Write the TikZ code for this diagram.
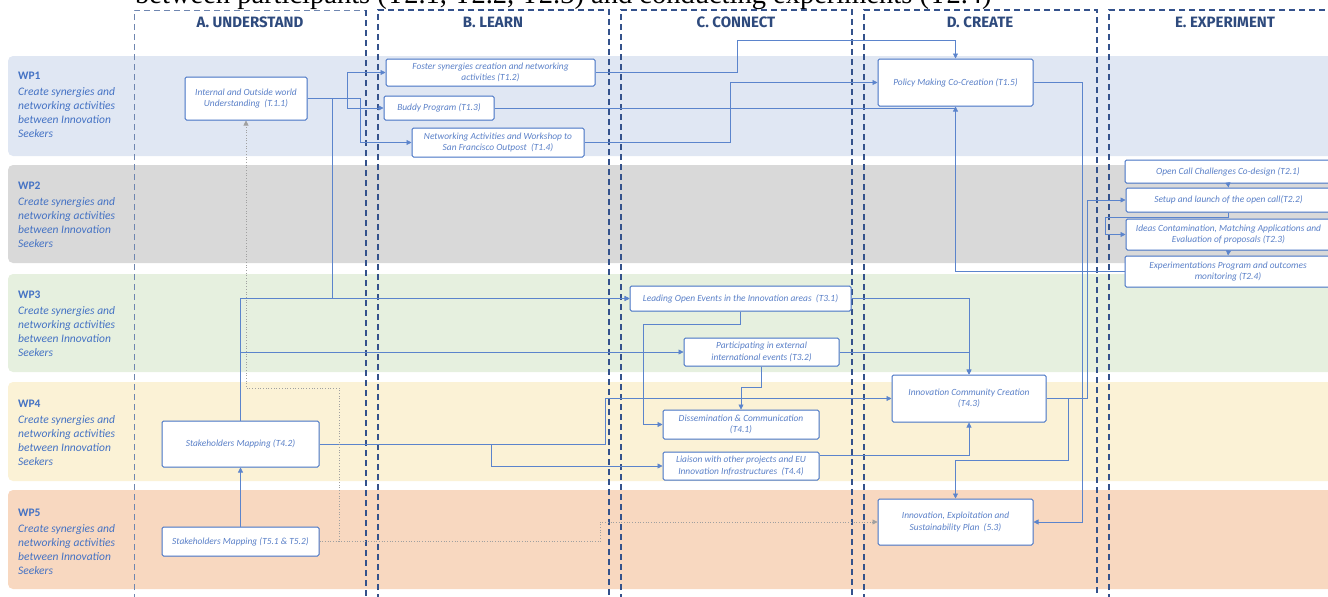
\documentclass[tikz,border=0pt]{standalone}
\usepackage{fontspec}
\setmainfont{Carlito}
\newfontfamily\hdfont{Fira Sans}
\newfontfamily\serifft{Liberation Serif}
\usetikzlibrary{arrows.meta}
\definecolor{boxblue}{HTML}{4472C4}
\definecolor{txtblue}{HTML}{5A80C8}
\definecolor{lnblue}{HTML}{5B84CC}
\definecolor{coldash}{HTML}{34528C}
\definecolor{colA}{HTML}{6F86B0}
\definecolor{hdcol}{HTML}{2E4A7D}
\definecolor{wpA}{HTML}{E0E7F3}
\definecolor{wpB}{HTML}{D9D9D9}
\definecolor{wpC}{HTML}{E6F0DF}
\definecolor{wpD}{HTML}{FBF2D6}
\definecolor{wpE}{HTML}{F8D8C0}
\definecolor{dotgrey}{HTML}{A0A0A0}
\tikzset{
  lane/.style={rounded corners=5pt},
  colline/.style={draw=coldash, line width=1.3pt, dash pattern=on 6pt off 4pt},
  collineA/.style={draw=colA, line width=0.9pt, dash pattern=on 6pt off 4pt},
  header/.style={font=\hdfont\bfseries\fontsize{15}{15}\selectfont, text=hdcol, inner sep=0},
  lanelbl/.style={anchor=north west, inner sep=0, align=left, text=boxblue, font=\fontsize{11.5}{14}\selectfont},
  tbox/.style={draw=boxblue, line width=1pt, fill=white, rounded corners=1.5pt, inner sep=1pt,
    align=center, text=txtblue, font=\fontsize{9.4}{11.5}\selectfont\itshape},
  conn/.style={draw=lnblue, line width=0.7pt, -{Triangle[length=5pt,width=5pt]}},
  plain/.style={draw=lnblue, line width=0.7pt},
  dotconn/.style={draw=dotgrey, line width=0.7pt, dotted, -{Triangle[length=5pt,width=5pt]}},
}
\begin{document}
\begin{tikzpicture}[x=1pt,y=-1pt]
\useasboundingbox (0,0) rectangle (1328,597);
\begin{scope}
\clip (0,0) rectangle (1328,597);
% lanes
\fill[wpA, lane] (8,56) rectangle (1345,156);
\fill[wpB, lane] (8,165) rectangle (1345,263);
\fill[wpC, lane] (8,274) rectangle (1345,372);
\fill[wpD, lane] (8,382) rectangle (1345,481);
\fill[wpE, lane] (8,490) rectangle (1345,589);
% cut-off caption at the top
\node[anchor=base west, inner sep=0, font=\serifft\fontsize{28.5}{28.5}\selectfont] (cut) at (135,4)
  {between participants (T2.1, T2.2, T2.3) and conducting experiments (T2.4)};
% columns
\draw[collineA] (134,600) -- (134,10) -- (366,10);
\draw[colline] (366,10) -- (366,600);
\draw[colline] (378,600) -- (378,10) -- (609,10) -- (609,600);
\draw[colline] (621,600) -- (621,10) -- (852,10) -- (852,600);
\draw[colline] (864,600) -- (864,10) -- (1097,10) -- (1097,600);
\draw[colline] (1109,600) -- (1109,10) -- (1340,10);
\end{scope}
% headers
\node[header] (hA) at (250,22) {A. UNDERSTAND};
\node[header] (hB) at (493,22) {B. LEARN};
\node[header] (hC) at (736,22) {C. CONNECT};
\node[header] (hD) at (980,22) {D. CREATE};
\node[header] (hE) at (1225,22) {E. EXPERIMENT};
% lane labels
\node[lanelbl] (l1) at (18,72) {\textbf{WP1}\\[2pt]\itshape Create synergies and\\\itshape networking activities\\\itshape between Innovation\\\itshape Seekers};
\node[lanelbl] (l2) at (18,182) {\textbf{WP2}\\[2pt]\itshape Create synergies and\\\itshape networking activities\\\itshape between Innovation\\\itshape Seekers};
\node[lanelbl] (l3) at (18,291) {\textbf{WP3}\\[2pt]\itshape Create synergies and\\\itshape networking activities\\\itshape between Innovation\\\itshape Seekers};
\node[lanelbl] (l4) at (18,400) {\textbf{WP4}\\[2pt]\itshape Create synergies and\\\itshape networking activities\\\itshape between Innovation\\\itshape Seekers};
\node[lanelbl] (l5) at (18,509) {\textbf{WP5}\\[2pt]\itshape Create synergies and\\\itshape networking activities\\\itshape between Innovation\\\itshape Seekers};
% boxes
\node[tbox, minimum width=122pt, minimum height=43pt] (T11) at (246,98.5) {Internal and Outside world\\Understanding~~(T.1.1)};
\node[tbox, minimum width=209pt, minimum height=27pt] (T12) at (490.5,72.5) {Foster synergies creation and networking\\activities (T1.2)};
\node[tbox, minimum width=110pt, minimum height=24pt] (T13) at (439,108) {Buddy Program (T1.3)};
\node[tbox, minimum width=172pt, minimum height=29pt] (T14) at (498,142.5) {Networking Activities and Workshop to\\San Francisco Outpost~~(T1.4)};
\node[tbox, minimum width=155pt, minimum height=47pt] (T15) at (955.5,82.5) {Policy Making Co-Creation (T1.5)};
\node[tbox, minimum width=206pt, minimum height=23pt] (T21) at (1228,171.5) {Open Call Challenges Co-design (T2.1)};
\node[tbox, minimum width=205pt, minimum height=24pt] (T22) at (1228.5,200) {Setup and launch of the open call(T2.2)};
\node[tbox, minimum width=205pt, minimum height=31pt] (T23) at (1228.5,234.5) {Ideas Contamination, Matching Applications and\\Evaluation of proposals (T2.3)};
\node[tbox, minimum width=206pt, minimum height=31pt] (T24) at (1228,271.5) {Experimentations Program and outcomes\\monitoring (T2.4)};
\node[tbox, minimum width=221pt, minimum height=25pt] (T31) at (740.5,298.5) {Leading Open Events in the Innovation areas~~(T3.1)};
\node[tbox, minimum width=155pt, minimum height=28pt] (T32) at (761.5,352) {Participating in external\\international events (T3.2)};
\node[tbox, minimum width=156pt, minimum height=29pt] (T41) at (741,424.5) {Dissemination \& Communication\\(T4.1)};
\node[tbox, minimum width=157pt, minimum height=46pt] (T42) at (240.5,444) {Stakeholders Mapping (T4.2)};
\node[tbox, minimum width=154pt, minimum height=47pt] (T43) at (969,398.5) {Innovation Community Creation\\(T4.3)};
\node[tbox, minimum width=156pt, minimum height=28pt] (T44) at (741,466) {Liaison with other projects and EU\\Innovation Infrastructures~~(T4.4)};
\node[tbox, minimum width=157pt, minimum height=29pt] (T5) at (240.5,541.5) {Stakeholders Mapping (T5.1 \& T5.2)};
\node[tbox, minimum width=155pt, minimum height=46pt] (P53) at (955.5,522) {Innovation, Exploitation and\\Sustainability Plan~~(5.3)};
% helper coordinates
\coordinate (dA) at (246,388);
% connectors WP1
\draw[conn] (T11.east) -- (347,98.5) |- (T12.west);
\draw[conn] (347,98.5) |- (T13.west);
\draw[conn] (T11.east) -- (360,98.5) |- (T14.west);
\draw[conn] (T11.east) -- (332,98.5) |- (T31.west);
\draw[conn] (T12.east) -- (737,72.5) -- (737,40) -| (T15.north);
\draw[plain] (T13.east) -- (T15.south |- T13.east);
\draw[conn] (T14.east) -- (730,142.5) |- (T15.west);
\draw[conn] (T15.east) -- (1082,82.5) |- (P53.east);
\draw[conn] (T24.west) -| (T15.south);
% WP2
\draw[conn] (T21.south) -- (T22.north);
\draw[conn] (T22.south) -- (1228.5,217) -| (1105,234.5) -- (T23.west);
\draw[conn] (T23.south) -- (T24.north);
% WP3
\draw[conn] (T42.north) |- (T31.west);
\draw[conn] (T42.north) |- (T32.west);
\draw[conn] (T31.east) -| (T43.north);
\draw[conn] (T32.east) -| (T43.north);
\draw[conn] (T31.south) -- (740.5,324.5) -- (643,324.5) |- (T41.west);
\draw[conn] (T32.south) -- (761.5,387.5) -| (T41.north);
% WP4
\draw[conn] (T42.east) -- (605,444) |- (T43.west);
\draw[conn] (491,444) |- (T44.west);
\draw[conn] ([yshift=11pt]T44.east) -| (T43.south);
\draw[conn] (T43.east) -- (1087,398.5) |- (T22.west);
\draw[conn] (1068,398.5) -- (1068,460) -| (P53.north);
% WP5
\draw[conn] (T5.north) -- (T42.south);
\draw[dotconn] (T5.east) -- (339,541.5) |- (dA) -- (T11.south);
\draw[dotconn] (T5.east) -- (600,541.5) |- (P53.west);
\end{tikzpicture}
\end{document}
